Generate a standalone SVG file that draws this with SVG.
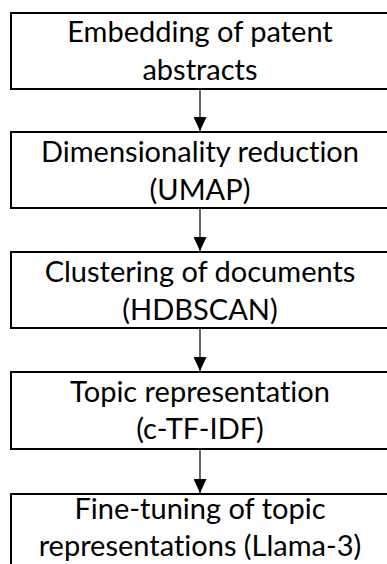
<svg xmlns="http://www.w3.org/2000/svg" width="387" height="564" viewBox="0 0 387 564">
  <style>
    .box { fill: #ffffff; stroke: #000000; stroke-width: 2; }
    .label { font-family: Lato, "Open Sans", sans-serif; font-size: 29px; fill: #000000; text-anchor: middle; font-variant-ligatures: none; font-feature-settings: "liga" 0, "dlig" 0; }
    .link { stroke: #000000; stroke-width: 1.2; fill: none; }
  </style>
  <defs>
    <marker id="head" viewBox="0 0 14 13" refX="14" refY="6.5" markerWidth="14" markerHeight="13" markerUnits="userSpaceOnUse" orient="auto">
      <path d="M0,0 L14,6.5 L0,13 Z" fill="#000000"/>
    </marker>
  </defs>
  <rect width="387" height="564" fill="#ffffff"/>

  <g id="embedding">
    <rect class="box" x="11" y="13" width="378" height="76"/>
    <text class="label" x="200" y="42">Embedding of patent</text>
    <text class="label" x="200" y="80">abstracts</text>
  </g>

  <g id="umap">
    <rect class="box" x="11" y="132" width="378" height="76"/>
    <text class="label" x="200" y="162">Dimensionality reduction</text>
    <text class="label" x="200" y="200">(UMAP)</text>
  </g>

  <g id="hdbscan">
    <rect class="box" x="11" y="252" width="378" height="76"/>
    <text class="label" x="200" y="282">Clustering of documents</text>
    <text class="label" x="200" y="320">(HDBSCAN)</text>
  </g>

  <g id="ctfidf">
    <rect class="box" x="11" y="372" width="378" height="77"/>
    <text class="label" x="200" y="402">Topic representation</text>
    <text class="label" x="200" y="439">(c-TF-IDF)</text>
  </g>

  <g id="llama">
    <rect class="box" x="11" y="494" width="378" height="80"/>
    <text class="label" x="200" y="519">Fine-tuning of topic</text>
    <text class="label" x="200" y="556">representations (Llama-3)</text>
  </g>

  <g id="connectors">
    <line class="link" x1="200" y1="89" x2="200" y2="131" marker-end="url(#head)"/>
    <line class="link" x1="200" y1="208" x2="200" y2="251" marker-end="url(#head)"/>
    <line class="link" x1="200" y1="328" x2="200" y2="371" marker-end="url(#head)"/>
    <line class="link" x1="200" y1="449" x2="200" y2="493" marker-end="url(#head)"/>
  </g>
</svg>
